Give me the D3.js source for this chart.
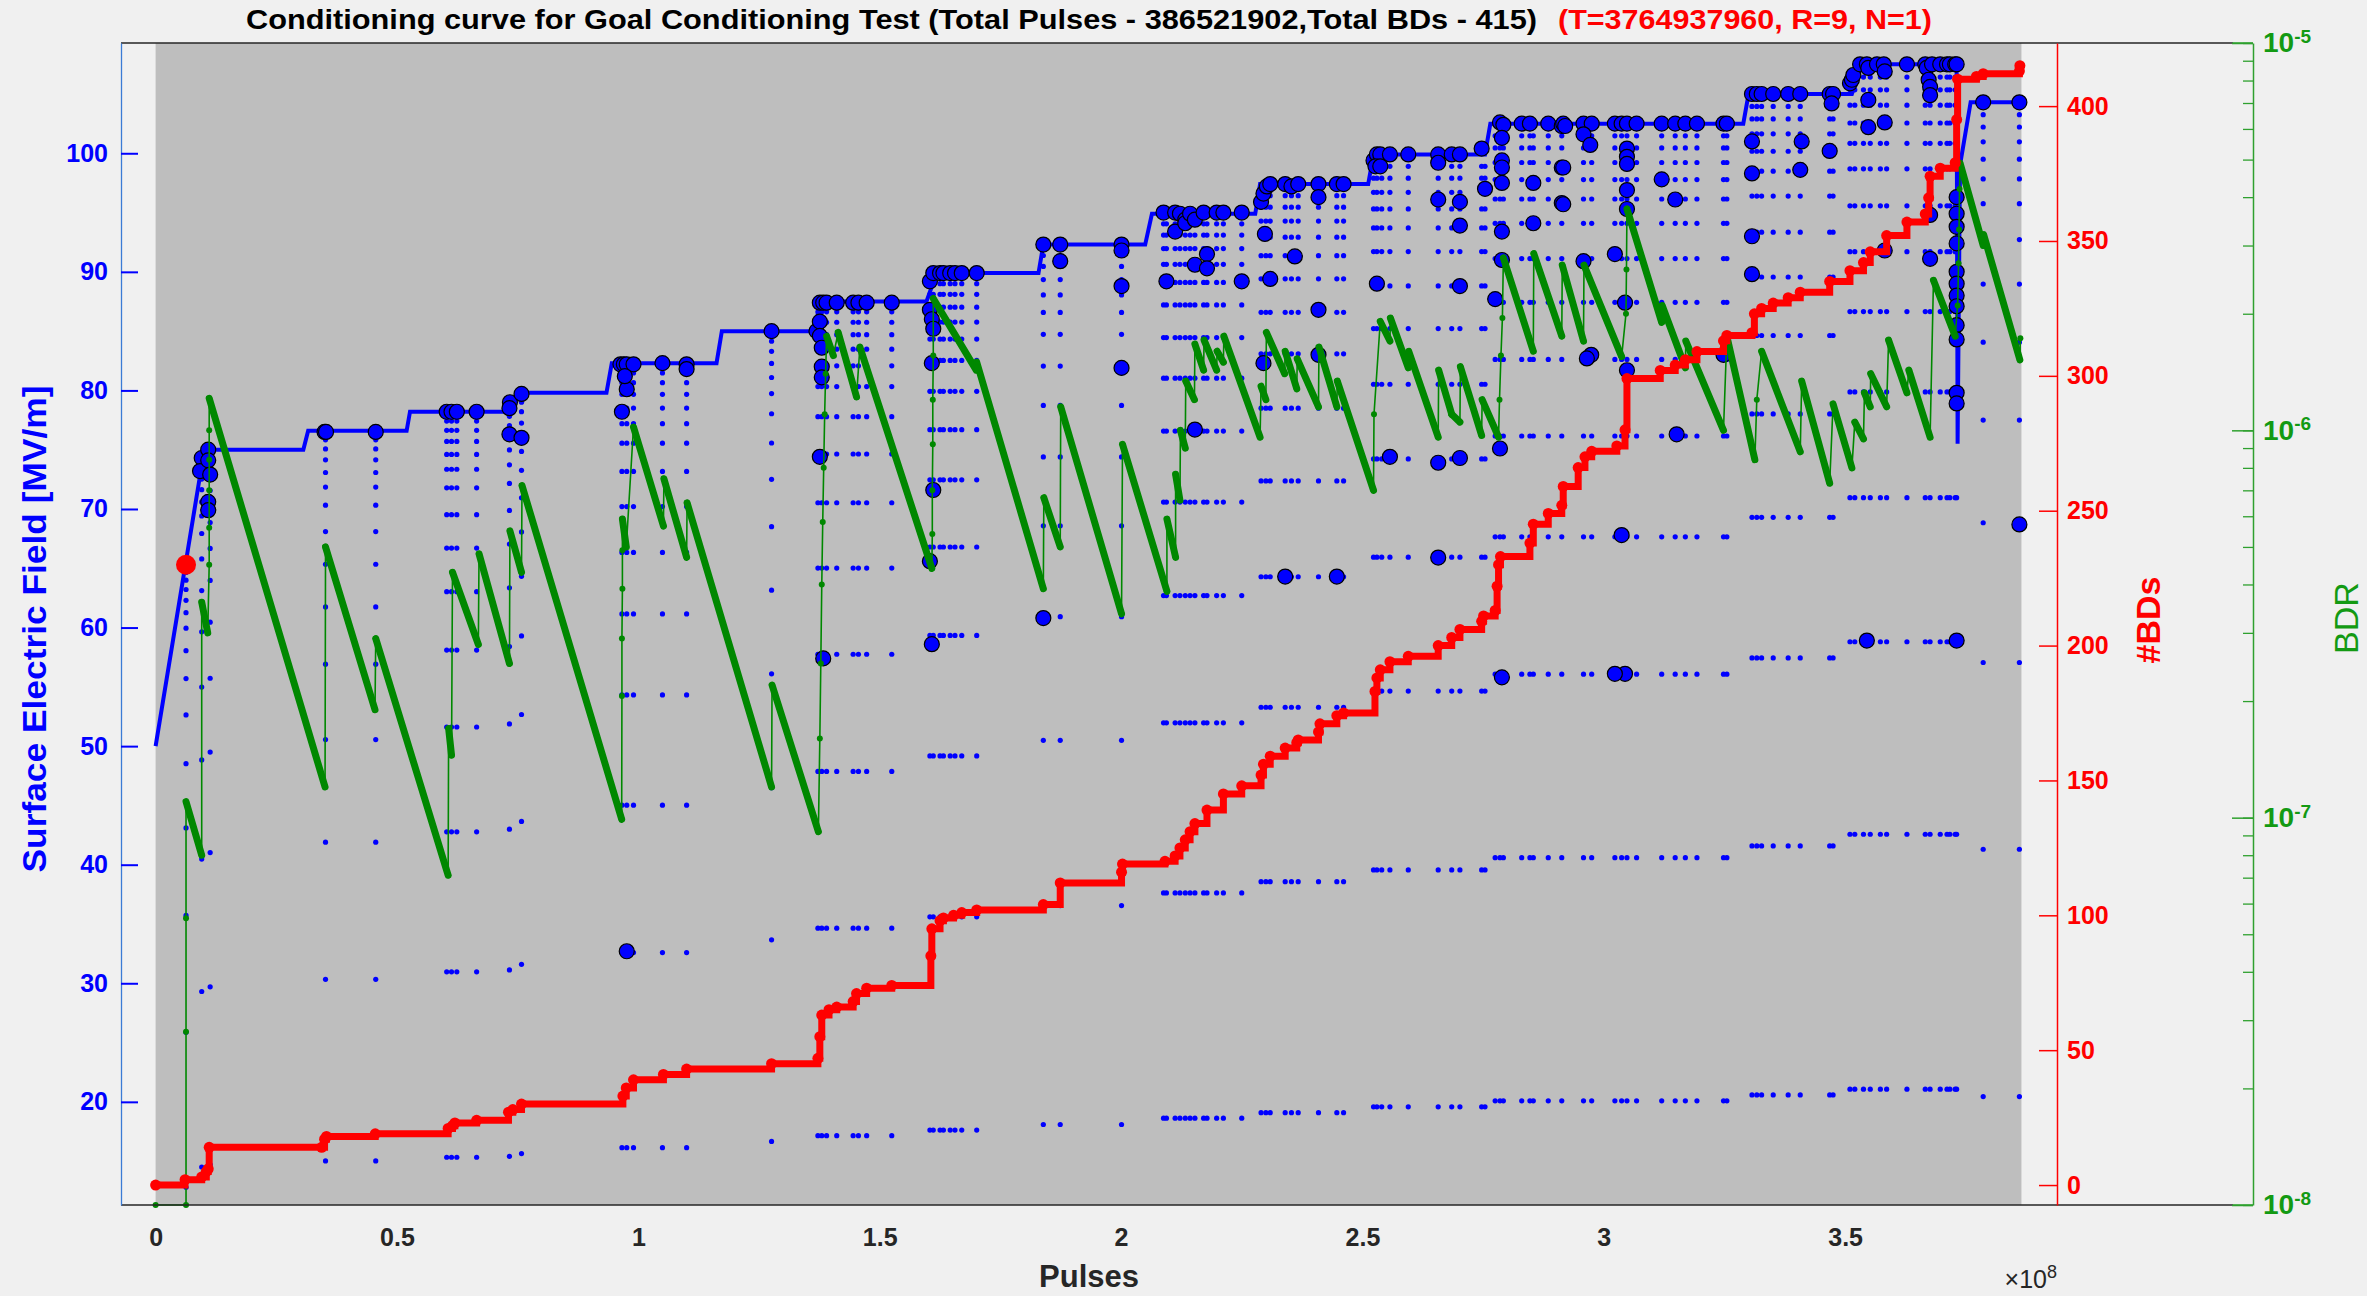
<!DOCTYPE html>
<html>
  <head>
    <meta charset="utf-8" />
    <title>Conditioning curve</title>
    <script src="https://d3js.org/d3.v7.min.js"></script>
    <style>
        body {
            margin: 0;
            background: #f0f0f0;
        }
        text {
            font-family: "Liberation Sans", Arial, Helvetica, sans-serif;
        }
    </style>
  </head>
  <body>
    <svg id="chart"></svg>

    <script>
        // pulses are in units of 1e8
        var totalPulses = 3.86521902;

        var xTicks = [0, 0.5, 1, 1.5, 2, 2.5, 3, 3.5];
        var fieldTicks = [20, 30, 40, 50, 60, 70, 80, 90, 100];
        var bdTicks = [0, 50, 100, 150, 200, 250, 300, 350, 400];
        var bdrTicks = [1e-8, 1e-7, 1e-6, 1e-5];

        // target surface field (blue staircase)
        var fieldLine = [[0,50],[0.092,72.8],[0.104,75],[0.306,75],[0.316,76.6],[0.520,76.6],[0.527,78.2],[0.741,78.2],[0.748,79.8],
            [0.934,79.8],[0.945,82.3],[1.162,82.3],[1.173,85],[1.366,85],[1.376,87.5],[1.597,87.5],[1.618,89.9],[1.829,89.9],
            [1.839,92.3],[2.050,92.3],[2.064,94.9],[2.278,94.9],[2.288,97.4],[2.512,97.4],[2.523,99.9],[2.754,99.9],[2.765,102.5],
            [3.289,102.5],[3.300,105],[3.514,105],[3.535,107.5],[3.731,107.5],[3.733,75.5],[3.738,99],[3.760,104.3],[3.862,104.3]];

        // breakdown events [pulses, field]
        var bdEvents = [[0.0955,74.3],[0.092,73.2],[0.109,75],[0.109,74.1],[0.113,72.9],[0.109,70.6],[0.109,69.9],
            [0.350,76.5],[0.353,76.5],[0.456,76.5],[0.603,78.2],[0.613,78.2],[0.624,78.2],[0.665,78.2],
            [0.734,79.0],[0.733,78.5],[0.733,76.3],[0.758,79.7],[0.758,76.0],
            [0.963,82.2],[0.970,82.2],[0.976,82.2],[0.990,82.2],[0.966,78.2],[0.976,80.1],[0.972,81.2],[0.976,32.7],
            [1.050,82.3],[1.100,82.2],[1.100,81.8],[1.276,85],
            [1.369,85],[1.376,87.4],[1.383,87.4],[1.390,87.4],[1.411,87.4],[1.376,85.8],[1.376,84.6],[1.380,83.6],[1.380,82.0],
            [1.380,81.1],[1.376,74.4],[1.383,57.4],[1.445,87.4],[1.456,87.4],[1.473,87.4],[1.525,87.4],
            [1.604,89.2],[1.611,89.9],[1.625,89.9],[1.632,89.9],[1.646,89.9],[1.656,89.9],[1.670,89.9],[1.701,89.9],
            [1.604,86.8],[1.608,86.0],[1.611,85.2],[1.608,82.3],[1.611,71.6],[1.604,65.6],[1.608,58.6],
            [1.839,92.3],[1.839,60.8],[1.874,92.3],[1.874,90.9],
            [2.001,92.3],[2.001,91.8],[2.001,88.8],[2.001,81.9],
            [2.088,95],[2.094,89.2],[2.112,95],[2.112,93.4],[2.122,94.9],[2.133,94.4],[2.133,94.1],[2.143,94.9],[2.153,94.4],
            [2.153,90.6],[2.153,76.7],[2.171,95],[2.178,91.5],[2.178,90.3],[2.198,95],[2.212,95],[2.250,95],[2.250,89.2],
            [2.290,95.9],[2.295,96.6],[2.302,97.2],[2.309,97.4],[2.298,93.2],[2.309,89.4],[2.295,82.3],
            [2.340,97.4],[2.353,97.2],[2.367,97.4],[2.360,91.3],[2.340,64.3],
            [2.409,97.4],[2.409,96.3],[2.409,86.8],[2.409,83.0],[2.447,97.4],[2.461,97.4],[2.447,64.3],
            [2.523,99.4],[2.530,99.9],[2.537,99.9],[2.557,99.9],[2.527,98.9],[2.537,98.9],[2.530,89.0],[2.557,74.4],[2.595,99.9],
            [2.657,99.9],[2.657,99.2],[2.657,96.1],[2.657,73.9],[2.657,65.9],
            [2.685,99.9],[2.702,99.9],[2.702,95.9],[2.702,93.9],[2.702,88.8],[2.702,74.3],
            [2.747,100.4],[2.754,97.0],[2.775,87.7],[2.785,102.6],[2.792,102.4],[2.789,101.3],[2.789,99.4],[2.789,98.8],
            [2.789,97.5],[2.789,93.4],[2.789,91.0],[2.785,75.1],[2.789,55.8],
            [2.830,102.5],[2.847,102.5],[2.854,97.5],[2.854,94.1],[2.885,102.5],[2.913,102.3],[2.913,98.8],[2.913,95.8],
            [2.916,102.5],[2.916,98.8],[2.916,95.7],[2.920,102.3],[2.958,102.5],[2.975,102.5],[2.958,101.6],[2.972,100.7],
            [2.958,90.9],[2.974,83.0],[2.965,82.7],
            [3.023,102.5],[3.037,102.5],[3.048,102.5],[3.068,102.5],[3.048,100.4],[3.048,99.7],[3.048,99.1],[3.048,96.9],
            [3.048,95.3],[3.023,91.5],[3.044,87.4],[3.048,81.7],[3.037,67.8],[3.044,56.1],[3.023,56.1],
            [3.120,102.5],[3.148,102.5],[3.169,102.5],[3.193,102.5],[3.120,97.8],[3.148,96.1],[3.151,76.3],
            [3.248,102.5],[3.255,102.5],[3.248,83.0],
            [3.307,105],[3.317,105],[3.327,105],[3.351,105],[3.307,101.0],[3.307,98.3],[3.307,93.0],[3.307,89.8],
            [3.382,105],[3.407,105],[3.410,101.0],[3.407,98.6],[3.468,105],[3.475,105],[3.472,104.2],[3.468,100.2],
            [3.510,105.9],[3.514,106.2],[3.517,106.6],[3.531,107.5],[3.545,107.5],[3.548,107.2],[3.566,107.5],[3.580,107.5],
            [3.582,106.9],[3.548,104.5],[3.548,102.2],[3.582,102.6],[3.582,91.8],[3.545,58.9],[3.628,107.5],
            [3.666,107.5],[3.669,107.2],[3.673,106.2],[3.676,105.6],[3.676,104.9],[3.676,94.8],[3.676,91.1],[3.680,107.5],
            [3.697,107.5],[3.711,107.5],[3.717,107.5],[3.728,107.5],[3.731,107.5],
            [3.731,96.3],[3.731,94.9],[3.731,93.8],[3.731,92.4],[3.731,90.0],[3.731,89.0],[3.731,88.0],[3.731,87.1],
            [3.731,85.5],[3.731,84.3],[3.731,79.8],[3.731,78.9],[3.731,58.9],
            [3.786,104.3],[3.861,104.3],[3.861,68.7]];

        // ramp-up after each breakdown: [pulses, target field]
        var rampCols = [[0.063,65.3],[0.0955,74],[0.113,75],[0.352,76.6],[0.456,76.6],
            [0.603,78.2],[0.613,78.2],[0.624,78.2],[0.665,78.2],[0.733,78.6],[0.758,79.8],
            [0.966,82.3],[0.976,82.3],[0.990,82.3],[1.050,82.3],[1.100,82.3],[1.276,85],
            [1.372,87.5],[1.380,87.5],[1.390,87.5],[1.411,87.5],[1.445,87.5],[1.456,87.5],[1.473,87.5],[1.525,87.5],
            [1.604,89.9],[1.611,89.9],[1.625,89.9],[1.632,89.9],[1.646,89.9],[1.656,89.9],[1.670,89.9],[1.701,89.9],
            [1.839,92.3],[1.874,92.3],[2.001,92.3],
            [2.088,95],[2.094,95],[2.112,95],[2.122,95],[2.133,95],[2.143,95],[2.153,95],[2.171,95],[2.178,95],[2.198,95],[2.212,95],[2.250,95],
            [2.290,97.4],[2.300,97.4],[2.309,97.4],[2.340,97.4],[2.353,97.4],[2.367,97.4],[2.409,97.4],[2.447,97.4],[2.461,97.4],
            [2.523,99.9],[2.530,99.9],[2.540,99.9],[2.557,99.9],[2.595,99.9],[2.657,99.9],[2.685,99.9],[2.702,99.9],[2.747,99.9],[2.754,99.9],
            [2.775,102.5],[2.785,102.5],[2.792,102.5],[2.830,102.5],[2.847,102.5],[2.854,102.5],[2.885,102.5],[2.913,102.5],[2.958,102.5],[2.975,102.5],
            [3.023,102.5],[3.037,102.5],[3.048,102.5],[3.068,102.5],[3.120,102.5],[3.148,102.5],[3.169,102.5],[3.193,102.5],[3.248,102.5],[3.255,102.5],
            [3.307,105],[3.317,105],[3.327,105],[3.351,105],[3.382,105],[3.407,105],[3.468,105],[3.475,105],
            [3.510,107.5],[3.520,107.5],[3.538,107.5],[3.552,107.5],[3.573,107.5],[3.586,107.5],[3.628,107.5],[3.666,107.5],
            [3.676,107.5],[3.697,107.5],[3.711,107.5],[3.717,107.5],[3.728,107.5],[3.731,107.5],
            [3.786,104.3],[3.861,104.3]];
        // ramp levels as read from the columns (fraction of target)
        var rampLevels = [0.196, 0.396, 0.547, 0.66, 0.743, 0.806, 0.853, 0.889, 0.918, 0.938, 0.954, 0.968, 0.98, 0.99];

        // cumulative number of breakdowns
        var bdCount = [[0,0],[0.061,2],[0.0955,3],[0.105,5],[0.109,6],[0.111,14],[0.344,14],[0.350,17],[0.354,18],[0.455,19],
            [0.606,21],[0.615,22],[0.620,23],[0.665,24],[0.731,27],[0.740,28],[0.758,30],[0.968,33],[0.975,36],[0.990,39],
            [1.052,41],[1.100,43],[1.276,45],[1.372,47],[1.376,55],[1.380,63],[1.395,65],[1.411,66],[1.445,68],[1.452,71],
            [1.473,73],[1.525,74],[1.606,85],[1.608,95],[1.625,98],[1.632,99],[1.653,100],[1.670,101],[1.701,102],[1.839,104],
            [1.874,112],[2.001,116],[2.003,119],[2.091,120],[2.112,122],[2.122,125],[2.133,128],[2.143,131],[2.153,134],
            [2.178,139],[2.212,145],[2.250,148],[2.290,152],[2.295,156],[2.309,159],[2.340,162],[2.364,164],[2.367,165],
            [2.409,168],[2.412,171],[2.447,174],[2.461,175],[2.526,183],[2.530,188],[2.537,191],[2.557,194],[2.595,196],
            [2.657,200],[2.685,203],[2.702,206],[2.747,209],[2.751,211],[2.775,213],[2.779,222],[2.782,230],[2.786,233],
            [2.847,238],[2.854,245],[2.885,249],[2.913,252],[2.916,259],[2.947,266],[2.961,270],[2.975,272],[3.027,274],
            [3.044,280],[3.048,299],[3.117,302],[3.148,304],[3.169,306],[3.193,309],[3.248,313],[3.255,315],[3.307,316],
            [3.312,323],[3.327,325],[3.351,327],[3.382,329],[3.407,331],[3.468,335],[3.510,339],[3.538,342],[3.552,346],
            [3.586,352],[3.628,357],[3.666,360],[3.673,366],[3.676,374],[3.697,377],[3.728,379],[3.731,395],[3.733,410],
            [3.772,411],[3.786,412],[3.861,413],[3.862,415]];

        // breakdown rate (log axis)
        var bdrLine = [[0,1e-8],[0.063,1e-8],[0.063,2.8e-8],[0.063,5.5e-8],[0.063,1.1e-7],[0.0955,8.0e-8],[0.0955,3.6e-7],
            [0.108,3.0e-7],[0.111,4.5e-7],[0.111,5.6e-7],[0.111,7.0e-7],[0.111,8.4e-7],[0.111,1.0e-6],[0.111,1.21e-6],
            [0.351,1.2e-7],[0.352,5.0e-7],[0.4545,1.9e-7],[0.456,2.9e-7],[0.606,7.1e-8],[0.607,1.7e-7],[0.613,1.45e-7],
            [0.615,4.3e-7],[0.6686,2.8e-7],[0.670,4.8e-7],[0.733,2.5e-7],[0.734,5.5e-7],[0.758,4.3e-7],[0.759,7.2e-7],
            [0.9655,9.9e-8],[0.966,2.06e-7],[0.966,2.9e-7],[0.967,3.9e-7],[0.967,4.9e-7],[0.967,5.9e-7],[0.975,5.0e-7],
            [0.990,1.02e-6],[1.052,5.66e-7],[1.053,7.5e-7],[1.100,4.7e-7],[1.101,6.5e-7],
            [1.276,1.2e-7],[1.277,2.2e-7],[1.373,9.2e-8],[1.376,1.6e-7],[1.378,2.5e-7],[1.380,4.0e-7],[1.382,5.8e-7],
            [1.384,8.0e-7],[1.386,1.1e-6],[1.388,1.4e-6],[1.390,1.75e-6],[1.404,1.56e-6],[1.414,1.79e-6],[1.452,1.22e-6],
            [1.459,1.64e-6],[1.608,4.4e-7],[1.609,5.4e-7],[1.609,7.0e-7],[1.610,9.2e-7],[1.610,1.2e-6],[1.611,1.56e-6],
            [1.611,2.19e-6],[1.700,1.43e-6],[1.701,1.5e-6],[1.839,3.9e-7],[1.840,6.7e-7],[1.874,5.0e-7],[1.875,1.15e-6],
            [2.001,3.36e-7],[2.003,9.2e-7],[2.095,3.84e-7],[2.095,5.9e-7],[2.113,4.7e-7],[2.113,7.7e-7],[2.122,6.6e-7],
            [2.123,1.0e-6],[2.133,9.0e-7],[2.134,1.34e-6],[2.152,1.2e-6],[2.153,1.67e-6],[2.171,1.43e-6],[2.172,1.71e-6],
            [2.198,1.43e-6],[2.199,1.6e-6],[2.212,1.5e-6],[2.213,1.75e-6],[2.288,9.6e-7],[2.290,1.3e-6],[2.300,1.2e-6],
            [2.301,1.79e-6],[2.339,1.4e-6],[2.340,1.6e-6],[2.364,1.28e-6],[2.365,1.53e-6],[2.409,1.15e-6],[2.410,1.64e-6],
            [2.447,1.15e-6],[2.448,1.34e-6],[2.523,7.0e-7],[2.524,1.1e-6],[2.537,1.91e-6],[2.557,1.7e-6],[2.558,1.95e-6],
            [2.595,1.45e-6],[2.596,1.6e-6],[2.657,9.6e-7],[2.658,1.43e-6],[2.685,1.1e-6],[2.702,1.05e-6],[2.703,1.46e-6],
            [2.747,9.7e-7],[2.748,1.2e-6],[2.782,9.6e-7],[2.784,1.2e-6],[2.787,1.56e-6],[2.790,1.95e-6],[2.792,2.79e-6],
            [2.854,1.6e-6],[2.855,2.86e-6],[2.913,1.75e-6],[2.914,2.67e-6],[2.958,1.7e-6],[2.959,2.67e-6],[3.037,1.55e-6],
            [3.046,2.0e-6],[3.047,2.6e-6],[3.048,3.73e-6],[3.120,1.9e-6],[3.121,2.1e-6],[3.169,1.45e-6],[3.170,1.7e-6],
            [3.248,1.0e-6],[3.255,1.75e-6],[3.313,8.4e-7],[3.317,1.2e-6],[3.327,1.6e-6],[3.407,8.8e-7],[3.410,1.34e-6],
            [3.468,7.3e-7],[3.475,1.17e-6],[3.514,8.0e-7],[3.520,1.05e-6],[3.538,9.5e-7],[3.540,1.25e-6],[3.552,1.15e-6],
            [3.553,1.4e-6],[3.586,1.15e-6],[3.590,1.71e-6],[3.628,1.25e-6],[3.632,1.43e-6],[3.676,9.6e-7],[3.683,2.44e-6],
            [3.728,1.75e-6],[3.733,2.1e-6],[3.735,2.7e-6],[3.736,3.3e-6],[3.737,4.2e-6],[3.738,4.9e-6],[3.786,3.0e-6],
            [3.787,3.2e-6],[3.862,1.52e-6],[3.863,1.73e-6]];

        var firstMarker = [0.063, 65.3];

        var width = 2367;
        var height = 1296;
        var plotTop = 43, plotBottom = 1205;

        var svg = d3.select("#chart").attr("width", width).attr("height", height);

        var x = d3.scaleLinear().domain([-0.0717, 3.9389]).range([121, 2057]);
        var yField = d3.scaleLinear().domain([11.3, 109.3]).range([plotBottom, plotTop]);
        var yBD = d3.scaleLinear().domain([-7.4, 423.4]).range([plotBottom, plotTop]);
        var yBDR = d3.scaleLog().domain([1e-8, 1e-5]).range([plotBottom, plotTop]);

        var blue = "#0000ff", red = "#ff0000", green = "#008800", greenAxis = "#2ea02e";

        // shaded test range
        svg.append("rect")
            .attr("x", x(0)).attr("y", plotTop)
            .attr("width", x(totalPulses) - x(0))
            .attr("height", plotBottom - plotTop)
            .attr("fill", "#bebebe");

        // ramp dots
        var rampDots = [];
        rampCols.forEach(function(c) {
            rampLevels.forEach(function(l) {
                rampDots.push([c[0], c[1] * l]);
            });
        });
        svg.append("g").selectAll("circle")
            .data(rampDots).enter().append("circle")
            .attr("cx", function(d) { return x(d[0]); })
            .attr("cy", function(d) { return yField(d[1]); })
            .attr("r", 2.6)
            .attr("fill", blue);

        // field staircase
        svg.append("path")
            .datum(fieldLine)
            .attr("fill", "none")
            .attr("stroke", blue)
            .attr("stroke-width", 4)
            .attr("d", d3.line().x(function(d) { return x(d[0]); }).y(function(d) { return yField(d[1]); }));

        // breakdown events
        svg.append("g").selectAll("circle")
            .data(bdEvents).enter().append("circle")
            .attr("cx", function(d) { return x(d[0]); })
            .attr("cy", function(d) { return yField(d[1]); })
            .attr("r", 7.5)
            .attr("fill", blue)
            .attr("stroke", "#000")
            .attr("stroke-width", 1.2);

        // BDR: thick where it decays, thin on jumps
        var bdrPath = d3.line().x(function(d) { return x(d[0]); }).y(function(d) { return yBDR(d[1]); });
        var gBdr = svg.append("g");
        gBdr.selectAll("path")
            .data(d3.pairs(bdrLine)).enter().append("path")
            .attr("fill", "none")
            .attr("stroke", green)
            .attr("stroke-linecap", "round")
            .attr("stroke-width", function(d) { return d[1][1] < d[0][1] ? 7 : 1.6; })
            .attr("d", function(d) { return bdrPath(d); });
        gBdr.selectAll("circle")
            .data(bdrLine).enter().append("circle")
            .attr("cx", function(d) { return x(d[0]); })
            .attr("cy", function(d) { return yBDR(d[1]); })
            .attr("r", 3)
            .attr("fill", green);

        // cumulative BDs
        svg.append("path")
            .datum(bdCount)
            .attr("fill", "none")
            .attr("stroke", red)
            .attr("stroke-width", 7)
            .attr("d", d3.line().curve(d3.curveStepAfter)
                .x(function(d) { return x(d[0]); }).y(function(d) { return yBD(d[1]); }));
        svg.append("g").selectAll("circle")
            .data(bdCount).enter().append("circle")
            .attr("cx", function(d) { return x(d[0]); })
            .attr("cy", function(d) { return yBD(d[1]); })
            .attr("r", 5.5)
            .attr("fill", red);

        svg.append("circle")
            .attr("cx", x(firstMarker[0]))
            .attr("cy", yField(firstMarker[1]))
            .attr("r", 10)
            .attr("fill", red);

        // frame
        var frame = svg.append("g").attr("stroke-width", 1.5);
        frame.append("line").attr("x1", 121).attr("x2", 2233).attr("y1", plotTop).attr("y2", plotTop).attr("stroke", "#262626");
        frame.append("line").attr("x1", 121).attr("x2", 2233).attr("y1", plotBottom).attr("y2", plotBottom).attr("stroke", "#262626");
        frame.append("line").attr("x1", 2233).attr("x2", 2253).attr("y1", plotTop).attr("y2", plotTop).attr("stroke", greenAxis);
        frame.append("line").attr("x1", 2233).attr("x2", 2253).attr("y1", plotBottom).attr("y2", plotBottom).attr("stroke", greenAxis);

        // x axis
        var gx = svg.append("g")
            .attr("transform", "translate(0," + plotBottom + ")")
            .call(d3.axisBottom(x).tickValues(xTicks).tickSize(0).tickPadding(23).tickFormat(d3.format("~g")));
        gx.select(".domain").remove();
        gx.selectAll("text").attr("font-size", 25).attr("font-weight", "bold").attr("fill", "#262626")
            .style("font-family", "Liberation Sans, Arial, sans-serif");

        // left axis
        var gl = svg.append("g")
            .attr("transform", "translate(121,0)")
            .call(d3.axisLeft(yField).tickValues(fieldTicks).tickSizeInner(-17).tickSizeOuter(0).tickPadding(13));
        gl.select(".domain").attr("stroke", "#3a7bd5").attr("stroke-width", 1.3);
        gl.selectAll(".tick line").attr("stroke", blue).attr("stroke-width", 2);
        gl.selectAll("text").attr("font-size", 25).attr("font-weight", "bold").attr("fill", blue)
            .style("font-family", "Liberation Sans, Arial, sans-serif");

        // red axis
        var gr = svg.append("g")
            .attr("transform", "translate(2057,0)")
            .call(d3.axisRight(yBD).tickValues(bdTicks).tickSizeInner(-18).tickSizeOuter(0).tickPadding(10));
        gr.select(".domain").attr("stroke", red).attr("stroke-width", 1.5);
        gr.selectAll(".tick line").attr("stroke", red).attr("stroke-width", 1.5);
        gr.selectAll("text").attr("font-size", 25).attr("font-weight", "bold").attr("fill", red)
            .style("font-family", "Liberation Sans, Arial, sans-serif");

        // green log axis
        var gMinor = svg.append("g")
            .attr("transform", "translate(2253,0)")
            .call(d3.axisRight(yBDR).tickSizeInner(-10).tickSizeOuter(0).tickFormat(""));
        gMinor.select(".domain").attr("stroke", greenAxis).attr("stroke-width", 1.5);
        gMinor.selectAll(".tick line").attr("stroke", greenAxis).attr("stroke-width", 1.3);

        var gMajor = svg.append("g")
            .attr("transform", "translate(2253,0)")
            .call(d3.axisRight(yBDR).tickValues(bdrTicks).tickSizeInner(-21).tickSizeOuter(0).tickPadding(10));
        gMajor.select(".domain").remove();
        gMajor.selectAll(".tick line").attr("stroke", greenAxis).attr("stroke-width", 1.5);
        gMajor.selectAll(".tick text").each(function(d) {
            var t = d3.select(this);
            t.text(null)
                .attr("font-size", 28).attr("font-weight", "bold").attr("fill", "#139a13")
                .style("font-family", "Liberation Sans, Arial, sans-serif");
            t.append("tspan").text("10");
            t.append("tspan").attr("dy", "-0.5em").attr("font-size", 19).text(Math.round(Math.log10(d)));
        });

        // titles and labels
        svg.append("text")
            .attr("x", 246).attr("y", 29)
            .attr("font-size", 28).attr("font-weight", "bold").attr("fill", "#000")
            .attr("textLength", 1291).attr("lengthAdjust", "spacingAndGlyphs")
            .text("Conditioning curve for Goal Conditioning Test (Total Pulses - 386521902,Total BDs - 415)");
        svg.append("text")
            .attr("x", 1558).attr("y", 29)
            .attr("font-size", 28).attr("font-weight", "bold").attr("fill", red)
            .attr("textLength", 374).attr("lengthAdjust", "spacingAndGlyphs")
            .text("(T=3764937960, R=9, N=1)");

        svg.append("text")
            .attr("x", 1089).attr("y", 1287)
            .attr("text-anchor", "middle")
            .attr("font-size", 31).attr("font-weight", "bold").attr("fill", "#262626")
            .text("Pulses");

        var mult = svg.append("text")
            .attr("x", 2057).attr("y", 1288)
            .attr("text-anchor", "end")
            .attr("font-size", 25).attr("fill", "#262626");
        mult.append("tspan").text("\u00d710");
        mult.append("tspan").attr("dy", "-0.55em").attr("font-size", 18).text("8");

        svg.append("text")
            .attr("transform", "translate(46,629) rotate(-90)")
            .attr("text-anchor", "middle")
            .attr("font-size", 33).attr("font-weight", "bold").attr("fill", blue)
            .attr("textLength", 487).attr("lengthAdjust", "spacingAndGlyphs")
            .text("Surface Electric Field [MV/m]");

        svg.append("text")
            .attr("transform", "translate(2160,620) rotate(-90)")
            .attr("text-anchor", "middle")
            .attr("font-size", 34).attr("font-weight", "bold").attr("fill", red)
            .text("#BDs");

        svg.append("text")
            .attr("transform", "translate(2358,618) rotate(-90)")
            .attr("text-anchor", "middle")
            .attr("font-size", 34).attr("fill", "#139a13")
            .text("BDR");
    </script>
  </body>
</html>
